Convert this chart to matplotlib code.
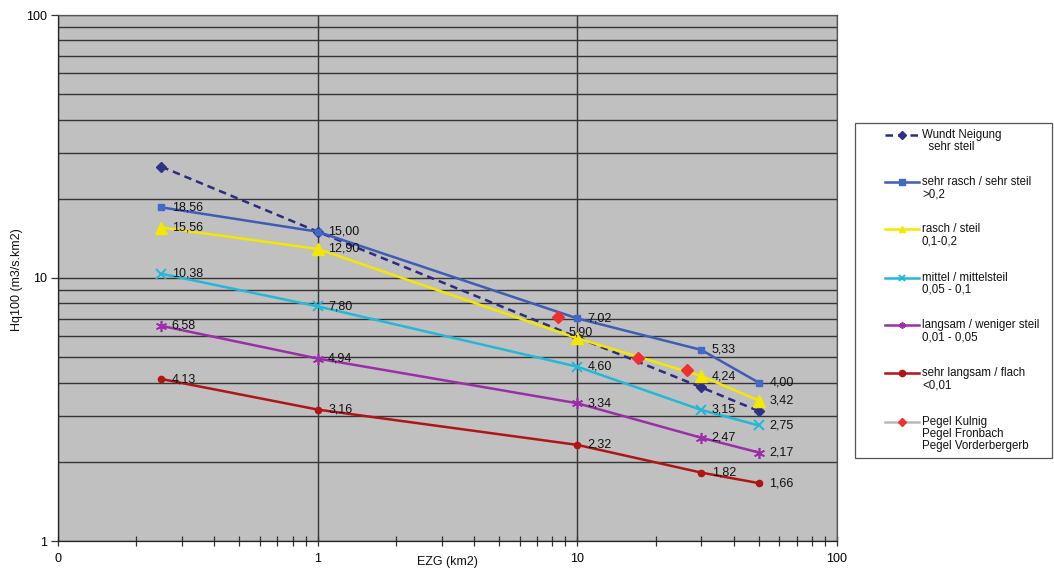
import matplotlib
matplotlib.use("Agg")
import matplotlib.pyplot as plt
from matplotlib.ticker import LogLocator, FixedLocator, FixedFormatter, NullFormatter
from matplotlib.lines import Line2D
from matplotlib.patches import Rectangle

plt.rcParams["font.family"] = ["Liberation Sans", "DejaVu Sans"]

# catchment area (km2)
ezg = [0.25, 1, 10, 30, 50]

# specific flood discharge Hq100 (m3/s.km2) per slope class
wundt = [26.5, 15.0, 5.95, 3.84, 3.12]
sehr_rasch = [18.56, 15.00, 7.02, 5.33, 4.00]
rasch = [15.56, 12.90, 5.90, 4.24, 3.42]
mittel = [10.38, 7.80, 4.60, 3.15, 2.75]
langsam = [6.58, 4.94, 3.34, 2.47, 2.17]
sehr_langsam = [4.13, 3.16, 2.32, 1.82, 1.66]

# gauging stations
pegel_ezg = [8.4, 17.1, 26.5]
pegel_hq = [7.08, 4.97, 4.46]

x_ticks = [0.1, 1, 10, 100]
x_tick_labels = ["0", "1", "10", "100"]
y_ticks = [1, 10, 100]
y_tick_labels = ["1", "10", "100"]

legend_labels = [
    ["Wundt Neigung", "  sehr steil"],
    ["sehr rasch / sehr steil", ">0,2"],
    ["rasch / steil", "0,1-0,2"],
    ["mittel / mittelsteil", "0,05 - 0,1"],
    ["langsam / weniger steil", "0,01 - 0,05"],
    ["sehr langsam / flach", "<0,01"],
    ["Pegel Kulnig", "Pegel Fronbach", "Pegel Vorderbergerb"],
]

W, H = 1054, 571
fig = plt.figure(figsize=(W / 100, H / 100), dpi=100)
fig.patch.set_facecolor("white")


def fx(px):
    return px / W


def fy(py):
    return 1 - py / H


ax = fig.add_axes([fx(58), fy(541), fx(837) - fx(58), fy(15) - fy(541)])
ax.set_facecolor("#c0c0c0")
ax.set_xscale("log")
ax.set_yscale("log")
ax.set_xlim(0.1, 100)
ax.set_ylim(1, 100)

grid_col = "#353535"
ax.yaxis.set_major_locator(FixedLocator(y_ticks))
ax.yaxis.set_major_formatter(FixedFormatter(y_tick_labels))
ax.yaxis.set_minor_locator(LogLocator(base=10, subs=range(2, 10)))
ax.yaxis.set_minor_formatter(NullFormatter())
ax.xaxis.set_major_locator(FixedLocator(x_ticks))
ax.xaxis.set_major_formatter(FixedFormatter(x_tick_labels))
ax.xaxis.set_minor_locator(LogLocator(base=10, subs=range(2, 10)))
ax.xaxis.set_minor_formatter(NullFormatter())

ax.grid(True, which="major", axis="both", color=grid_col, linewidth=1.0)
ax.grid(True, which="minor", axis="y", color=grid_col, linewidth=1.0)
ax.set_axisbelow(True)

ax.tick_params(axis="y", which="major", direction="out", length=5, width=0.9,
               color="#333333", labelsize=9, pad=3)
ax.tick_params(axis="y", which="minor", length=0)
ax.tick_params(axis="x", which="both", direction="inout", length=7, width=0.9,
               color="#333333", labelsize=9, pad=5)
for s in ax.spines.values():
    s.set_color("#555555")
    s.set_linewidth(0.9)
ax.spines["left"].set_color("#222222")
ax.spines["bottom"].set_color("#222222")

# axis titles
fig.text(fx(447), fy(562), "EZG (km2)", fontsize=9, ha="center", va="center",
         color="#111111")
fig.text(fx(17), fy(280), "Hq100 (m3/s.km2)", fontsize=9, ha="center",
         va="center", rotation=90, color="#111111")

styles = [
    dict(color="#2b2d80", ls=(0, (3, 2)), marker="D", ms=5, mfc="#2e3185", mec="#2e3185", lw=1.8),
    dict(color="#3e5cb8", ls="-", marker="s", ms=5, mfc="#4169c8", mec="#4169c8", lw=1.8),
    dict(color="#f4e800", ls="-", marker="^", ms=8.5, mfc="#f4e800", mec="#f4e800", lw=1.8),
    dict(color="#22b8d8", ls="-", marker="x", ms=7, mew=1.4, lw=1.8),
    dict(color="#9a2fa8", ls="-", marker=(6, 2, 0), ms=8, mew=1.2, lw=1.8),
    dict(color="#b01515", ls="-", marker="o", ms=4.5, mfc="#b01515", mec="#b01515", lw=1.8),
]
series = [wundt, sehr_rasch, rasch, mittel, langsam, sehr_langsam]

for vals, st in zip(series, styles):
    ax.plot(ezg, vals, zorder=3, **st)

ax.plot(pegel_ezg, pegel_hq, ls="none", marker="D", ms=6, color="#f03030", zorder=4)

# value labels (not for the Wundt curve)
label_offsets = {(2, 2): (-6.5, 4.3)}
for si, vals in enumerate(series[1:], start=1):
    for pi, (xv, yv) in enumerate(zip(ezg, vals)):
        off = label_offsets.get((si, pi), (7.5, 0))
        ax.annotate(f"{yv:.2f}".replace(".", ","), (xv, yv), xytext=off,
                    textcoords="offset points", ha="left", va="center",
                    fontsize=9, color="#111111", zorder=5)

# legend box
fig.patches.append(Rectangle((fx(855), fy(458)), fx(1052) - fx(855), fy(123) - fy(458),
                             transform=fig.transFigure, facecolor="white",
                             edgecolor="#555555", linewidth=0.9))
legend_styles = styles + [dict(color="#b8b8b8", ls="-", marker="D", ms=4,
                               mfc="#f03030", mec="#f03030", lw=1.5)]
first_line_y = [135, 182, 229, 277.7, 325, 373, 421.7]
for st, lines, ly in zip(legend_styles, legend_labels, first_line_y):
    st2 = dict(st)
    st2["ms"] = min(st2.get("ms", 4), 4.5)
    st2["lw"] = 1.8
    fig.add_artist(Line2D([fx(885), fx(902), fx(919)], [fy(ly)] * 3,
                          transform=fig.transFigure, markevery=[1], **st2))
    for k, t in enumerate(lines):
        fig.text(fx(922), fy(ly + 12.2 * k), t, fontsize=8.3, ha="left",
                 va="center", color="#111111")

fig.savefig("out.png", dpi=100)
